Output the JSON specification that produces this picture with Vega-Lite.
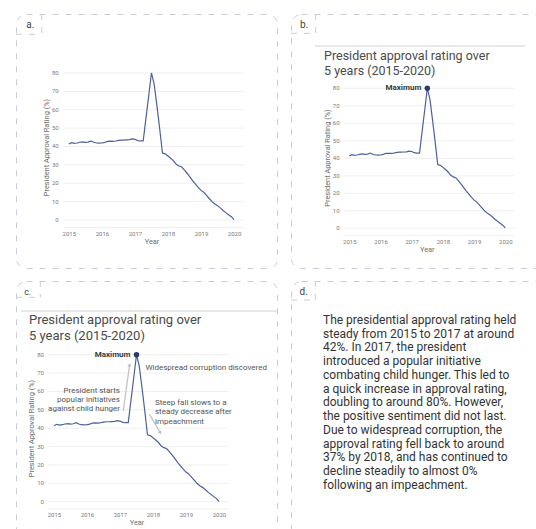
{
  "$schema": "https://vega.github.io/schema/vega-lite/v6.json",
  "padding": {"left": 15, "top": 13, "right": -14, "bottom": -12},
  "background": "white",
  "datasets": {
    "ratings": [
      {"year": 2015.0, "rating": 41.3}, {"year": 2015.083, "rating": 42.1}, {"year": 2015.167, "rating": 41.7},
      {"year": 2015.25, "rating": 41.9}, {"year": 2015.333, "rating": 42.3}, {"year": 2015.417, "rating": 42.5},
      {"year": 2015.5, "rating": 42.2}, {"year": 2015.583, "rating": 42.4}, {"year": 2015.667, "rating": 43.0},
      {"year": 2015.75, "rating": 42.3}, {"year": 2015.833, "rating": 41.9}, {"year": 2015.917, "rating": 41.8},
      {"year": 2016.0, "rating": 41.9}, {"year": 2016.083, "rating": 42.2}, {"year": 2016.167, "rating": 42.8},
      {"year": 2016.25, "rating": 42.9}, {"year": 2016.333, "rating": 42.8}, {"year": 2016.417, "rating": 43.0},
      {"year": 2016.5, "rating": 43.3}, {"year": 2016.583, "rating": 43.5}, {"year": 2016.667, "rating": 43.5},
      {"year": 2016.75, "rating": 43.6}, {"year": 2016.833, "rating": 43.7}, {"year": 2016.917, "rating": 44.1},
      {"year": 2017.0, "rating": 43.9}, {"year": 2017.083, "rating": 43.2}, {"year": 2017.167, "rating": 43.0},
      {"year": 2017.25, "rating": 43.0}, {"year": 2017.333, "rating": 55.3}, {"year": 2017.417, "rating": 67.6},
      {"year": 2017.5, "rating": 80.0}, {"year": 2017.583, "rating": 73.8}, {"year": 2017.667, "rating": 62.0},
      {"year": 2017.75, "rating": 49.5}, {"year": 2017.833, "rating": 36.4}, {"year": 2017.917, "rating": 36.0},
      {"year": 2018.0, "rating": 34.8}, {"year": 2018.083, "rating": 33.6}, {"year": 2018.167, "rating": 32.2},
      {"year": 2018.25, "rating": 30.3}, {"year": 2018.333, "rating": 29.4}, {"year": 2018.417, "rating": 28.8},
      {"year": 2018.5, "rating": 27.1}, {"year": 2018.583, "rating": 25.3}, {"year": 2018.667, "rating": 23.3},
      {"year": 2018.75, "rating": 21.3}, {"year": 2018.833, "rating": 19.5}, {"year": 2018.917, "rating": 17.7},
      {"year": 2019.0, "rating": 16.1}, {"year": 2019.083, "rating": 15.1}, {"year": 2019.167, "rating": 13.4},
      {"year": 2019.25, "rating": 11.7}, {"year": 2019.333, "rating": 10.0}, {"year": 2019.417, "rating": 8.7},
      {"year": 2019.5, "rating": 7.8}, {"year": 2019.583, "rating": 6.6}, {"year": 2019.667, "rating": 5.2},
      {"year": 2019.75, "rating": 4.0}, {"year": 2019.833, "rating": 2.9}, {"year": 2019.917, "rating": 1.8},
      {"year": 2020.0, "rating": 0.2}
    ],
    "grid": [{"tick": -4}, {"tick": 0}, {"tick": 10}, {"tick": 20}, {"tick": 30}, {"tick": 40}, {"tick": 50}, {"tick": 60}, {"tick": 70}, {"tick": 80}],
    "notes": [
      {"panel": "b", "kind": "title", "text": "President approval rating over", "year": 2014.189, "value": 96.35},
      {"panel": "b", "kind": "title", "text": "5 years (2015-2020)", "year": 2014.189, "value": 87.6},
      {"panel": "c", "kind": "title", "text": "President approval rating over", "year": 2014.242, "value": 96.71},
      {"panel": "c", "kind": "title", "text": "5 years (2015-2020)", "year": 2014.242, "value": 88.0},
      {"panel": "c", "kind": "corruption", "text": "Widespread corruption discovered", "year": 2017.77, "value": 72.6},
      {"panel": "c", "kind": "initiative", "text": "President starts", "year": 2017.0, "value": 60.4},
      {"panel": "c", "kind": "initiative", "text": "popular initiatives", "year": 2017.0, "value": 55.3},
      {"panel": "c", "kind": "initiative", "text": "against child hunger", "year": 2017.0, "value": 50.3},
      {"panel": "c", "kind": "impeachment", "text": "Steep fall slows to a", "year": 2018.06, "value": 53.5},
      {"panel": "c", "kind": "impeachment", "text": "steady decrease after", "year": 2018.06, "value": 48.6},
      {"panel": "c", "kind": "impeachment", "text": "impeachment", "year": 2018.06, "value": 43.5}
    ],
    "arrows": [
      {"arrow": 1, "fromYear": 2017.10, "fromValue": 49.5, "toYear": 2017.29, "toValue": 74.5},
      {"arrow": 2, "fromYear": 2017.89, "fromValue": 47.7, "toYear": 2018.22, "toValue": 37.5}
    ],
    "summary": [
      {"line": 1, "text": "The presidential approval rating held"},
      {"line": 2, "text": "steady from 2015 to 2017 at around"},
      {"line": 3, "text": "42%. In 2017, the president"},
      {"line": 4, "text": "introduced a popular initiative"},
      {"line": 5, "text": "combating child hunger. This led to"},
      {"line": 6, "text": "a quick increase in approval rating,"},
      {"line": 7, "text": "doubling to around 80%. However,"},
      {"line": 8, "text": "the positive sentiment did not last."},
      {"line": 9, "text": "Due to widespread corruption, the"},
      {"line": 10, "text": "approval rating fell back to around"},
      {"line": 11, "text": "37% by 2018, and has continued to"},
      {"line": 12, "text": "decline steadily to almost 0%"},
      {"line": 13, "text": "following an impeachment."}
    ]
  },
  "spacing": 11,
  "vconcat": [
    {
      "spacing": 14,
      "bounds": "flush",
      "hconcat": [
        {
          "width": 261,
          "height": 254,
          "layer": [
            {
              "data": {"name": "grid"},
              "mark": {"type": "rule", "color": "#efefef", "strokeWidth": 1},
              "encoding": {
                "y": {"field": "tick", "type": "quantitative"},
                "x": {"datum": 2014.83, "type": "quantitative"},
                "x2": {"datum": 2020.28}
              }
            },
            {
              "data": {"name": "grid"},
              "transform": [{"filter": "datum.tick >= 0"}],
              "mark": {"type": "text", "fontSize": 6, "color": "#7a7a7a", "align": "right", "baseline": "middle", "dx": -4.5},
              "encoding": {
                "y": {"field": "tick", "type": "quantitative"},
                "x": {"datum": 2014.83, "type": "quantitative"},
                "text": {"field": "tick", "type": "quantitative"}
              }
            },
            {
              "data": {"name": "ratings"},
              "mark": {"type": "line", "color": "#4e609c", "strokeWidth": 1.2},
              "encoding": {
                "x": {"field": "year", "type": "quantitative", "scale": {"domain": [2013.4, 2021.3], "nice": false, "zero": false},
                  "axis": {"values": [2015, 2016, 2017, 2018, 2019, 2020], "format": "d", "offset": -40.7, "labelPadding": 3, "title": "Year", "titleX": 135.5, "titlePadding": 1.5, "labelFlush": false, "labelOverlap": false}},
                "y": {"field": "rating", "type": "quantitative", "scale": {"domain": [-26.13, 112.1], "nice": false, "zero": false},
                  "axis": {"labels": false, "values": [0, 40, 80], "offset": -47, "title": "President Approval Rating (%)", "titleY": 133, "titlePadding": 12.5}}
              }
            },
            {
              "data": {"values": [{}]},
              "mark": {"type": "rule", "color": "#c8cdd9", "strokeDash": [6, 7]},
              "encoding": {"x": {"datum": 2014.179, "type": "quantitative"}, "y": {"datum": 112.1, "type": "quantitative"}, "y2": {"datum": 101.05}}
            },
            {
              "data": {"values": [{}]},
              "mark": {"type": "rule", "color": "#c8cdd9", "strokeDash": [6, 7]},
              "encoding": {"x": {"datum": 2013.4, "type": "quantitative"}, "x2": {"datum": 2014.179}, "y": {"datum": 101.05, "type": "quantitative"}}
            },
            {
              "data": {"values": [{}]},
              "mark": {"type": "text", "text": "a.", "fontSize": 10, "color": "#444444", "align": "center", "baseline": "middle"},
              "encoding": {"x": {"datum": 2013.833, "type": "quantitative"}, "y": {"datum": 106.1, "type": "quantitative"}}
            }
          ]
        },
        {
          "width": 260,
          "height": 254,
          "layer": [
            {
              "data": {"name": "grid"},
              "mark": {"type": "rule", "color": "#efefef", "strokeWidth": 1},
              "encoding": {
                "y": {"field": "tick", "type": "quantitative"},
                "x": {"datum": 2014.83, "type": "quantitative"},
                "x2": {"datum": 2020.28}
              }
            },
            {
              "data": {"name": "grid"},
              "transform": [{"filter": "datum.tick >= 0"}],
              "mark": {"type": "text", "fontSize": 6, "color": "#7a7a7a", "align": "right", "baseline": "middle", "dx": -4.5},
              "encoding": {
                "y": {"field": "tick", "type": "quantitative"},
                "x": {"datum": 2014.83, "type": "quantitative"},
                "text": {"field": "tick", "type": "quantitative"}
              }
            },
            {
              "data": {"name": "ratings"},
              "mark": {"type": "line", "color": "#4e609c", "strokeWidth": 1.2},
              "encoding": {
                "x": {"field": "year", "type": "quantitative", "scale": {"domain": [2013.131, 2021.464], "nice": false, "zero": false},
                  "axis": {"values": [2015, 2016, 2017, 2018, 2019, 2020], "format": "d", "offset": -33.7, "labelPadding": 3.7, "title": "Year", "titleX": 135.8, "titlePadding": 1.5, "labelFlush": false, "labelOverlap": false}},
                "y": {"field": "rating", "type": "quantitative", "scale": {"domain": [-22.68, 122.46], "nice": false, "zero": false},
                  "axis": {"labels": false, "values": [0, 40, 80], "offset": -53, "title": "President Approval Rating (%)", "titleY": 143.5, "titlePadding": 12.5}}
              }
            },
            {
              "data": {"name": "ratings"},
              "transform": [{"filter": {"field": "rating", "equal": 80}}],
              "mark": {"type": "point", "filled": true, "size": 30, "color": "#2b3b6e", "opacity": 1},
              "encoding": {"x": {"field": "year", "type": "quantitative"}, "y": {"field": "rating", "type": "quantitative"}}
            },
            {
              "data": {"name": "ratings"},
              "transform": [{"filter": {"field": "rating", "equal": 80}}],
              "mark": {"type": "text", "text": "Maximum", "fontSize": 8, "fontWeight": "bold", "color": "#3a3a3a", "align": "right", "baseline": "middle", "dx": -6},
              "encoding": {"x": {"field": "year", "type": "quantitative"}, "y": {"field": "rating", "type": "quantitative"}}
            },
            {
              "data": {"values": [{}]},
              "mark": {"type": "rule", "color": "#d2d2d2", "strokeWidth": 1},
              "encoding": {"x": {"datum": 2013.9, "type": "quantitative"}, "x2": {"datum": 2020.63}, "y": {"datum": 104.2, "type": "quantitative"}}
            },
            {
              "data": {"name": "notes"},
              "transform": [{"filter": "datum.panel === 'b' && datum.kind === 'title'"}],
              "mark": {"type": "text", "fontSize": 12.5, "color": "#4a4a4a", "align": "left", "baseline": "alphabetic"},
              "encoding": {"x": {"field": "year", "type": "quantitative"}, "y": {"field": "value", "type": "quantitative"}, "text": {"field": "text"}}
            },
            {
              "data": {"values": [{}]},
              "mark": {"type": "rule", "color": "#c8cdd9", "strokeDash": [6, 7]},
              "encoding": {"x": {"datum": 2013.923, "type": "quantitative"}, "y": {"datum": 122.46, "type": "quantitative"}, "y2": {"datum": 111.43}}
            },
            {
              "data": {"values": [{}]},
              "mark": {"type": "rule", "color": "#c8cdd9", "strokeDash": [6, 7]},
              "encoding": {"x": {"datum": 2013.131, "type": "quantitative"}, "x2": {"datum": 2013.923}, "y": {"datum": 111.43, "type": "quantitative"}}
            },
            {
              "data": {"values": [{}]},
              "mark": {"type": "text", "text": "b.", "fontSize": 10, "color": "#444444", "align": "center", "baseline": "middle"},
              "encoding": {"x": {"datum": 2013.548, "type": "quantitative"}, "y": {"datum": 116.17, "type": "quantitative"}}
            }
          ]
        }
      ]
    },
    {
      "spacing": 14,
      "bounds": "flush",
      "hconcat": [
        {
          "width": 261,
          "height": 260,
          "layer": [
            {
              "data": {"name": "grid"},
              "mark": {"type": "rule", "color": "#efefef", "strokeWidth": 1},
              "encoding": {
                "y": {"field": "tick", "type": "quantitative"},
                "x": {"datum": 2014.83, "type": "quantitative"},
                "x2": {"datum": 2020.28}
              }
            },
            {
              "data": {"name": "grid"},
              "transform": [{"filter": "datum.tick >= 0"}],
              "mark": {"type": "text", "fontSize": 6, "color": "#7a7a7a", "align": "right", "baseline": "middle", "dx": -4.5},
              "encoding": {
                "y": {"field": "tick", "type": "quantitative"},
                "x": {"datum": 2014.83, "type": "quantitative"},
                "text": {"field": "tick", "type": "quantitative"}
              }
            },
            {
              "data": {"name": "ratings"},
              "mark": {"type": "line", "color": "#4e609c", "strokeWidth": 1.2},
              "encoding": {
                "x": {"field": "year", "type": "quantitative", "scale": {"domain": [2013.8485, 2021.7576], "nice": false, "zero": false},
                  "axis": {"values": [2015, 2016, 2017, 2018, 2019, 2020], "format": "d", "offset": -32, "labelPadding": 2, "title": "Year", "titleX": 120.5, "titlePadding": 1.5, "labelFlush": false, "labelOverlap": false}},
                "y": {"field": "rating", "type": "quantitative", "scale": {"domain": [-21.39, 120.11], "nice": false, "zero": false},
                  "axis": {"labels": false, "values": [0, 40, 80], "offset": -32.4, "title": "President Approval Rating (%)", "titleY": 147, "titlePadding": 12.5}}
              }
            },
            {
              "data": {"name": "arrows"},
              "mark": {"type": "rule", "color": "#c4c4c4", "strokeWidth": 1.3},
              "encoding": {
                "x": {"field": "fromYear", "type": "quantitative"},
                "y": {"field": "fromValue", "type": "quantitative"},
                "x2": {"field": "toYear"},
                "y2": {"field": "toValue"}
              }
            },
            {
              "data": {"name": "arrows"},
              "transform": [{"filter": "datum.arrow === 1"}],
              "mark": {"type": "point", "shape": "triangle-up", "filled": true, "size": 18, "color": "#c4c4c4", "opacity": 1, "angle": 8},
              "encoding": {"x": {"field": "toYear", "type": "quantitative"}, "y": {"field": "toValue", "type": "quantitative"}}
            },
            {
              "data": {"name": "arrows"},
              "transform": [{"filter": "datum.arrow === 2"}],
              "mark": {"type": "point", "shape": "triangle-up", "filled": true, "size": 18, "color": "#c4c4c4", "opacity": 1, "angle": 150},
              "encoding": {"x": {"field": "toYear", "type": "quantitative"}, "y": {"field": "toValue", "type": "quantitative"}}
            },
            {
              "data": {"name": "ratings"},
              "transform": [{"filter": {"field": "rating", "equal": 80}}],
              "mark": {"type": "point", "filled": true, "size": 30, "color": "#2b3b6e", "opacity": 1},
              "encoding": {"x": {"field": "year", "type": "quantitative"}, "y": {"field": "rating", "type": "quantitative"}}
            },
            {
              "data": {"name": "ratings"},
              "transform": [{"filter": {"field": "rating", "equal": 80}}],
              "mark": {"type": "text", "text": "Maximum", "fontSize": 8, "fontWeight": "bold", "color": "#3a3a3a", "align": "right", "baseline": "middle", "dx": -6},
              "encoding": {"x": {"field": "year", "type": "quantitative"}, "y": {"field": "rating", "type": "quantitative"}}
            },
            {
              "data": {"values": [{}]},
              "mark": {"type": "rule", "color": "#d2d2d2", "strokeWidth": 1},
              "encoding": {"x": {"datum": 2014.0, "type": "quantitative"}, "x2": {"datum": 2021.7576}, "y": {"datum": 103.78, "type": "quantitative"}}
            },
            {
              "data": {"name": "notes"},
              "transform": [{"filter": "datum.panel === 'c' && datum.kind === 'title'"}],
              "mark": {"type": "text", "fontSize": 13, "color": "#4a4a4a", "align": "left", "baseline": "alphabetic"},
              "encoding": {"x": {"field": "year", "type": "quantitative"}, "y": {"field": "value", "type": "quantitative"}, "text": {"field": "text"}}
            },
            {
              "data": {"name": "notes"},
              "transform": [{"filter": "datum.panel === 'c' && datum.kind === 'initiative'"}],
              "mark": {"type": "text", "fontSize": 8, "color": "#555555", "align": "right", "baseline": "middle"},
              "encoding": {"x": {"field": "year", "type": "quantitative"}, "y": {"field": "value", "type": "quantitative"}, "text": {"field": "text"}}
            },
            {
              "data": {"name": "notes"},
              "transform": [{"filter": "datum.panel === 'c' && (datum.kind === 'corruption' || datum.kind === 'impeachment')"}],
              "mark": {"type": "text", "fontSize": 8, "color": "#555555", "align": "left", "baseline": "middle"},
              "encoding": {"x": {"field": "year", "type": "quantitative"}, "y": {"field": "value", "type": "quantitative"}, "text": {"field": "text"}}
            },
            {
              "data": {"values": [{}]},
              "mark": {"type": "rule", "color": "#c8cdd9", "strokeDash": [6, 7]},
              "encoding": {"x": {"datum": 2014.585, "type": "quantitative"}, "y": {"datum": 120.11, "type": "quantitative"}, "y2": {"datum": 111.24}}
            },
            {
              "data": {"values": [{}]},
              "mark": {"type": "rule", "color": "#c8cdd9", "strokeDash": [6, 7]},
              "encoding": {"x": {"datum": 2013.8485, "type": "quantitative"}, "x2": {"datum": 2014.585}, "y": {"datum": 111.24, "type": "quantitative"}}
            },
            {
              "data": {"values": [{}]},
              "mark": {"type": "text", "text": "c.", "fontSize": 9, "color": "#444444", "align": "center", "baseline": "middle"},
              "encoding": {"x": {"datum": 2014.203, "type": "quantitative"}, "y": {"datum": 113.96, "type": "quantitative"}}
            }
          ]
        },
        {
          "width": 260,
          "height": 260,
          "layer": [
            {
              "data": {"name": "summary"},
              "mark": {"type": "text", "fontSize": 12, "color": "#333333", "align": "left", "baseline": "alphabetic"},
              "encoding": {
                "x": {"datum": 0.1231, "type": "quantitative", "scale": {"domain": [0, 1], "nice": false, "zero": false}, "axis": null},
                "y": {"field": "line", "type": "quantitative", "scale": {"domain": [-2.127, 16.782], "reverse": true, "nice": false, "zero": false}, "axis": null},
                "text": {"field": "text"}
              }
            },
            {
              "data": {"values": [{}]},
              "mark": {"type": "rule", "color": "#c8cdd9", "strokeDash": [6, 7]},
              "encoding": {"x": {"datum": 0.0935, "type": "quantitative", "axis": null}, "y": {"datum": -2.127, "type": "quantitative", "axis": null}, "y2": {"datum": -0.745}}
            },
            {
              "data": {"values": [{}]},
              "mark": {"type": "rule", "color": "#c8cdd9", "strokeDash": [6, 7]},
              "encoding": {"x": {"datum": 0, "type": "quantitative", "axis": null}, "x2": {"datum": 0.0935}, "y": {"datum": -0.745, "type": "quantitative", "axis": null}}
            },
            {
              "data": {"values": [{}]},
              "mark": {"type": "text", "text": "d.", "fontSize": 10, "color": "#444444", "align": "center", "baseline": "middle"},
              "encoding": {"x": {"datum": 0.0488, "type": "quantitative", "axis": null}, "y": {"datum": -1.349, "type": "quantitative", "axis": null}}
            }
          ]
        }
      ]
    }
  ],
  "config": {
    "font": "Roboto",
    "view": {"stroke": "#c8cdd9", "strokeDash": [6, 7], "strokeWidth": 1, "cornerRadius": 10},
    "axis": {
      "grid": false,
      "domain": false,
      "ticks": false,
      "labelFont": "Roboto",
      "labelFontSize": 6,
      "labelColor": "#7a7a7a",
      "labelOverlap": false,
      "titleFont": "Roboto",
      "titleFontSize": 7.4,
      "titleColor": "#6f6f6f",
      "titleFontWeight": "normal"
    },
    "text": {"font": "Roboto"}
  }
}
